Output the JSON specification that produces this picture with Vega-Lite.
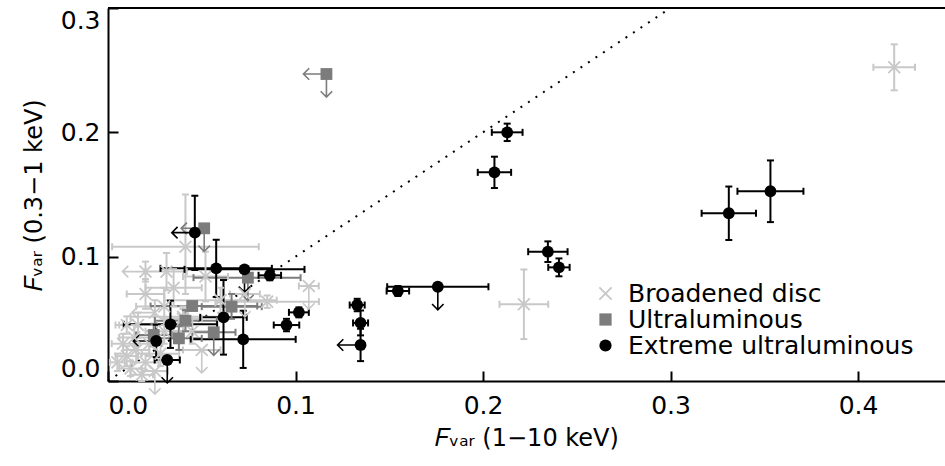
{
 "$schema": "https://vega.github.io/schema/vega-lite/v6.json",
 "width": 837, "height": 373,
 "autosize": "none",
 "padding": {"left": 108, "top": 8, "right": 0, "bottom": 85},
 "background": "white",
 "config": {
  "view": {"stroke": null},
  "font": "DejaVu Sans",
  "axis": {"domain": true, "domainColor": "black", "domainWidth": 2, "grid": false, "tickColor": "black", "tickWidth": 2, "tickSize": -10, "labelColor": "black", "labelFontSize": 25, "labelFont": "DejaVu Sans", "titleFont": "DejaVu Sans", "titleFontSize": 24, "titleFontWeight": "normal", "titleColor": "black"}
 },
 "datasets": {
  "diag": [{"x": 0, "y": 0, "x2": 0.3, "y2": 0.3}],
  "pts": [
   {"c": "Broadened disc", "x": 0.4193, "y": 0.2523, "xlo": 0.4082, "xhi": 0.4304, "ylo": 0.2338, "yhi": 0.2708},
   {"c": "Broadened disc", "x": 0.2218, "y": 0.0617, "xlo": 0.2088, "xhi": 0.2348, "ylo": 0.0337, "yhi": 0.0897},
   {"c": "Broadened disc", "x": 0.1071, "y": 0.0764, "xlo": 0.1018, "xhi": 0.1124, "yul": true},
   {"c": "Broadened disc", "x": 0.0849, "y": 0.0638, "xlo": 0.0573, "xhi": 0.1125, "ylo": 0.0588, "yhi": 0.0688},
   {"c": "Broadened disc", "x": 0.0413, "y": 0.108, "xlo": 0.0022, "xhi": 0.0804, "ylo": 0.07, "yhi": 0.15},
   {"c": "Broadened disc", "x": 0.0312, "y": 0.088, "xlo": 0.02, "xhi": 0.042, "ylo": 0.073, "yhi": 0.103},
   {"c": "Broadened disc", "x": 0.052, "y": 0.084, "xlo": 0.04, "xhi": 0.064, "ylo": 0.064, "yhi": 0.104},
   {"c": "Broadened disc", "x": 0.073, "y": 0.07, "xlo": 0.065, "xhi": 0.081, "yul": true},
   {"c": "Broadened disc", "x": 0.02, "y": 0.088, "xul": true, "ylo": 0.08, "yhi": 0.096},
   {"c": "Broadened disc", "x": 0.01, "y": 0.02, "xlo": 0.004, "xhi": 0.016, "ylo": 0.012, "yhi": 0.028},
   {"c": "Broadened disc", "x": 0.015, "y": 0.025, "xlo": 0.008, "xhi": 0.022, "ylo": 0.015, "yhi": 0.035},
   {"c": "Broadened disc", "x": 0.012, "y": 0.01, "xlo": 0.006, "xhi": 0.018, "ylo": 0.004, "yhi": 0.016},
   {"c": "Broadened disc", "x": 0.018, "y": 0.005, "xlo": 0.012, "xhi": 0.024, "ylo": 0.0, "yhi": 0.01},
   {"c": "Broadened disc", "x": 0.02, "y": 0.015, "xlo": 0.013, "xhi": 0.027, "ylo": 0.008, "yhi": 0.022},
   {"c": "Broadened disc", "x": 0.025, "y": 0.008, "xlo": 0.018, "xhi": 0.032, "yul": true},
   {"c": "Broadened disc", "x": 0.014, "y": 0.035, "xlo": 0.006, "xhi": 0.022, "ylo": 0.025, "yhi": 0.045},
   {"c": "Broadened disc", "x": 0.022, "y": 0.03, "xlo": 0.015, "xhi": 0.029, "ylo": 0.02, "yhi": 0.04},
   {"c": "Broadened disc", "x": 0.028, "y": 0.022, "xlo": 0.018, "xhi": 0.038, "ylo": 0.012, "yhi": 0.032},
   {"c": "Broadened disc", "x": 0.008, "y": 0.03, "xlo": 0.002, "xhi": 0.014, "ylo": 0.022, "yhi": 0.038},
   {"c": "Broadened disc", "x": 0.016, "y": 0.045, "xlo": 0.006, "xhi": 0.026, "ylo": 0.035, "yhi": 0.055},
   {"c": "Broadened disc", "x": 0.03, "y": 0.06, "xlo": 0.015, "xhi": 0.045, "ylo": 0.045, "yhi": 0.075},
   {"c": "Broadened disc", "x": 0.025, "y": 0.055, "xul": true, "ylo": 0.045, "yhi": 0.065},
   {"c": "Broadened disc", "x": 0.035, "y": 0.075, "xlo": 0.02, "xhi": 0.05, "ylo": 0.06, "yhi": 0.09},
   {"c": "Broadened disc", "x": 0.02, "y": 0.07, "xlo": 0.01, "xhi": 0.03, "ylo": 0.058, "yhi": 0.082},
   {"c": "Broadened disc", "x": 0.04, "y": 0.05, "xlo": 0.03, "xhi": 0.05, "ylo": 0.04, "yhi": 0.06},
   {"c": "Broadened disc", "x": 0.045, "y": 0.04, "xlo": 0.035, "xhi": 0.055, "ylo": 0.03, "yhi": 0.05},
   {"c": "Broadened disc", "x": 0.05, "y": 0.025, "xlo": 0.04, "xhi": 0.06, "yul": true},
   {"c": "Broadened disc", "x": 0.01, "y": 0.045, "xlo": 0.004, "xhi": 0.016, "ylo": 0.038, "yhi": 0.052},
   {"c": "Broadened disc", "x": 0.005, "y": 0.015, "xlo": 0.001, "xhi": 0.009, "ylo": 0.008, "yhi": 0.022},
   {"c": "Broadened disc", "x": 0.03, "y": 0.04, "xlo": 0.02, "xhi": 0.04, "ylo": 0.03, "yhi": 0.05},
   {"c": "Broadened disc", "x": 0.04, "y": 0.0517, "xlo": 0.012, "xhi": 0.06, "ylo": 0.045, "yhi": 0.058},
   {"c": "Broadened disc", "x": 0.06, "y": 0.065, "xlo": 0.03, "xhi": 0.09, "ylo": 0.055, "yhi": 0.075},
   {"c": "Ultraluminous", "x": 0.1165, "y": 0.2469, "xul": true, "yul": true},
   {"c": "Ultraluminous", "x": 0.0513, "y": 0.1228, "xul": true, "yul": true},
   {"c": "Ultraluminous", "x": 0.0746, "y": 0.0831, "xlo": 0.0456, "xhi": 0.1027, "yul": true},
   {"c": "Ultraluminous", "x": 0.0449, "y": 0.0603, "xlo": 0.0227, "xhi": 0.0796},
   {"c": "Ultraluminous", "x": 0.0659, "y": 0.0598, "xlo": 0.05, "xhi": 0.082, "ylo": 0.05, "yhi": 0.07},
   {"c": "Ultraluminous", "x": 0.0413, "y": 0.0485, "xlo": 0.025, "xhi": 0.058, "ylo": 0.04, "yhi": 0.057},
   {"c": "Ultraluminous", "x": 0.0564, "y": 0.0392, "xlo": 0.045, "xhi": 0.068, "yul": true},
   {"c": "Ultraluminous", "x": 0.0378, "y": 0.0343, "xlo": 0.025, "xhi": 0.05, "ylo": 0.025, "yhi": 0.044},
   {"c": "Ultraluminous", "x": 0.0244, "y": 0.037, "xlo": 0.015, "xhi": 0.034, "ylo": 0.028, "yhi": 0.046},
   {"c": "Extreme ultraluminous", "x": 0.2129, "y": 0.2, "xlo": 0.2047, "xhi": 0.2211, "ylo": 0.193, "yhi": 0.207},
   {"c": "Extreme ultraluminous", "x": 0.2061, "y": 0.1678, "xlo": 0.1972, "xhi": 0.215, "ylo": 0.1552, "yhi": 0.1804},
   {"c": "Extreme ultraluminous", "x": 0.2346, "y": 0.104, "xlo": 0.2241, "xhi": 0.2451, "ylo": 0.0957, "yhi": 0.1123},
   {"c": "Extreme ultraluminous", "x": 0.2405, "y": 0.0914, "xlo": 0.2348, "xhi": 0.2462, "ylo": 0.0842, "yhi": 0.0986},
   {"c": "Extreme ultraluminous", "x": 0.1759, "y": 0.0758, "xlo": 0.1489, "xhi": 0.2029, "yul": true},
   {"c": "Extreme ultraluminous", "x": 0.1546, "y": 0.0724, "xlo": 0.1486, "xhi": 0.1606, "ylo": 0.0684, "yhi": 0.0764},
   {"c": "Extreme ultraluminous", "x": 0.1329, "y": 0.0611, "xlo": 0.1289, "xhi": 0.1369, "ylo": 0.0561, "yhi": 0.0661},
   {"c": "Extreme ultraluminous", "x": 0.1347, "y": 0.0467, "xlo": 0.1307, "xhi": 0.1387, "ylo": 0.0367, "yhi": 0.0567},
   {"c": "Extreme ultraluminous", "x": 0.1347, "y": 0.029, "xul": true, "ylo": 0.016, "yhi": 0.042},
   {"c": "Extreme ultraluminous", "x": 0.3311, "y": 0.1349, "xlo": 0.3166, "xhi": 0.3456, "ylo": 0.1134, "yhi": 0.1564},
   {"c": "Extreme ultraluminous", "x": 0.3533, "y": 0.1526, "xlo": 0.3357, "xhi": 0.3709, "ylo": 0.1278, "yhi": 0.1774},
   {"c": "Extreme ultraluminous", "x": 0.0463, "y": 0.1193, "xul": true, "ylo": 0.0893, "yhi": 0.149},
   {"c": "Extreme ultraluminous", "x": 0.0577, "y": 0.0906, "xlo": 0.028, "xhi": 0.0874, "ylo": 0.0676, "yhi": 0.1136},
   {"c": "Extreme ultraluminous", "x": 0.0728, "y": 0.0898, "xlo": 0.0408, "xhi": 0.1048, "yul": true},
   {"c": "Extreme ultraluminous", "x": 0.0863, "y": 0.085, "xlo": 0.0803, "xhi": 0.0923, "ylo": 0.081, "yhi": 0.089},
   {"c": "Extreme ultraluminous", "x": 0.1018, "y": 0.0552, "xlo": 0.0965, "xhi": 0.1071, "ylo": 0.0512, "yhi": 0.0592},
   {"c": "Extreme ultraluminous", "x": 0.0952, "y": 0.045, "xlo": 0.0884, "xhi": 0.102, "ylo": 0.04, "yhi": 0.05},
   {"c": "Extreme ultraluminous", "x": 0.0616, "y": 0.0512, "xlo": 0.0492, "xhi": 0.074, "ylo": 0.0212, "yhi": 0.0812},
   {"c": "Extreme ultraluminous", "x": 0.0333, "y": 0.0456, "xlo": 0.0084, "xhi": 0.0582, "ylo": 0.0266, "yhi": 0.0646},
   {"c": "Extreme ultraluminous", "x": 0.0721, "y": 0.0335, "xlo": 0.0441, "xhi": 0.1001, "ylo": 0.0105, "yhi": 0.0565},
   {"c": "Extreme ultraluminous", "x": 0.0257, "y": 0.0322, "xul": true, "ylo": 0.0192, "yhi": 0.0452},
   {"c": "Extreme ultraluminous", "x": 0.0316, "y": 0.0169, "xlo": 0.0249, "xhi": 0.0383, "yul": true}
  ]
 },
 "layer": [
  {
   "data": {"name": "diag"},
   "mark": {"type": "rule", "color": "black", "strokeWidth": 2, "strokeDash": [2, 7]},
   "encoding": {
    "x": {"field": "x", "type": "quantitative", "scale": {"domain": [0, 0.4464], "nice": false, "zero": false}, "title": "𝐹ᵥₐᵣ  (1−10 keV)", "axis": {"values": [0, 0.1, 0.2, 0.3, 0.4], "format": ".1f", "labelPadding": 22, "titlePadding": 8}},
    "y": {"field": "y", "type": "quantitative", "scale": {"domain": [0, 0.3], "nice": false, "zero": false}, "title": "𝐹ᵥₐᵣ  (0.3−1 keV)", "axis": {"values": [0, 0.1, 0.2, 0.3], "format": ".1f", "labelPadding": 18, "labelFlush": true, "titlePadding": 14}},
    "x2": {"field": "x2"},
    "y2": {"field": "y2"}
   }
  },
  {
   "data": {"name": "diag"},
   "mark": {"type": "rule", "color": "black", "strokeWidth": 2},
   "encoding": {
    "y": {"datum": 0.3, "type": "quantitative", "title": "𝐹ᵥₐᵣ  (0.3−1 keV)"}
   }
  },
  {
   "data": {"name": "pts"},
   "transform": [{"filter": "isValid(datum.xlo)"}],
   "mark": {"type": "rule", "strokeWidth": 2},
   "encoding": {
    "x": {"field": "xlo", "type": "quantitative", "title": "𝐹ᵥₐᵣ  (1−10 keV)"},
    "x2": {"field": "xhi"},
    "y": {"field": "y", "type": "quantitative", "title": "𝐹ᵥₐᵣ  (0.3−1 keV)"},
    "stroke": {"field": "c", "type": "nominal", "scale": {"domain": ["Extreme ultraluminous", "Ultraluminous", "Broadened disc"], "range": ["#000000", "#7c7c7c", "#c8c8c8"]}, "legend": null}
   }
  },
  {
   "data": {"name": "pts"},
   "transform": [{"filter": "isValid(datum.ylo)"}],
   "mark": {"type": "rule", "strokeWidth": 2},
   "encoding": {
    "x": {"field": "x", "type": "quantitative", "title": "𝐹ᵥₐᵣ  (1−10 keV)"},
    "y": {"field": "ylo", "type": "quantitative", "title": "𝐹ᵥₐᵣ  (0.3−1 keV)"},
    "y2": {"field": "yhi"},
    "stroke": {"field": "c", "type": "nominal", "legend": null}
   }
  },
  {
   "data": {"name": "pts"},
   "transform": [{"filter": "isValid(datum.xlo)"}, {"fold": ["xlo", "xhi"], "as": ["end", "xe"]}],
   "mark": {"type": "point", "filled": false, "strokeWidth": 2, "shape": "M0,-1L0,1", "size": 49, "opacity": 1},
   "encoding": {
    "x": {"field": "xe", "type": "quantitative", "title": "𝐹ᵥₐᵣ  (1−10 keV)"},
    "y": {"field": "y", "type": "quantitative", "title": "𝐹ᵥₐᵣ  (0.3−1 keV)"},
    "stroke": {"field": "c", "type": "nominal", "legend": null}
   }
  },
  {
   "data": {"name": "pts"},
   "transform": [{"filter": "isValid(datum.ylo)"}, {"fold": ["ylo", "yhi"], "as": ["end", "ye"]}],
   "mark": {"type": "point", "filled": false, "strokeWidth": 2, "shape": "M-1,0L1,0", "size": 49, "opacity": 1},
   "encoding": {
    "x": {"field": "x", "type": "quantitative", "title": "𝐹ᵥₐᵣ  (1−10 keV)"},
    "y": {"field": "ye", "type": "quantitative", "title": "𝐹ᵥₐᵣ  (0.3−1 keV)"},
    "stroke": {"field": "c", "type": "nominal", "legend": null}
   }
  },
  {
   "data": {"name": "pts"},
   "transform": [{"filter": "datum.xul === true"}],
   "mark": {"type": "point", "filled": false, "strokeWidth": 1.6, "shape": "M0,0L-2,0M-1.5,-0.5L-2,0L-1.5,0.5", "size": 529, "opacity": 1},
   "encoding": {
    "x": {"field": "x", "type": "quantitative", "title": "𝐹ᵥₐᵣ  (1−10 keV)"},
    "y": {"field": "y", "type": "quantitative", "title": "𝐹ᵥₐᵣ  (0.3−1 keV)"},
    "stroke": {"field": "c", "type": "nominal", "legend": null}
   }
  },
  {
   "data": {"name": "pts"},
   "transform": [{"filter": "datum.yul === true"}],
   "mark": {"type": "point", "filled": false, "strokeWidth": 1.6, "shape": "M0,0L0,2M-0.5,1.5L0,2L0.5,1.5", "size": 529, "opacity": 1},
   "encoding": {
    "x": {"field": "x", "type": "quantitative", "title": "𝐹ᵥₐᵣ  (1−10 keV)"},
    "y": {"field": "y", "type": "quantitative", "title": "𝐹ᵥₐᵣ  (0.3−1 keV)"},
    "stroke": {"field": "c", "type": "nominal", "legend": null}
   }
  },
  {
   "data": {"name": "pts"},
   "mark": {"type": "point", "filled": true, "opacity": 1, "size": 140},
   "encoding": {
    "x": {"field": "x", "type": "quantitative", "title": "𝐹ᵥₐᵣ  (1−10 keV)"},
    "y": {"field": "y", "type": "quantitative", "title": "𝐹ᵥₐᵣ  (0.3−1 keV)"},
    "color": {"field": "c", "type": "nominal", "scale": {"domain": ["Broadened disc", "Ultraluminous", "Extreme ultraluminous"], "range": ["#c8c8c8", "#7c7c7c", "#000000"]}, "legend": {"title": null, "orient": "none", "legendX": 485, "legendY": 273, "padding": 0, "labelFontSize": 25, "labelFont": "DejaVu Sans", "labelColor": "black", "labelLimit": 0, "symbolSize": 150, "symbolStrokeWidth": 0, "rowPadding": 0, "labelOffset": 10}},
    "shape": {"field": "c", "type": "nominal", "scale": {"domain": ["Broadened disc", "Ultraluminous", "Extreme ultraluminous"], "range": ["M-0.891,-1.109L1.109,0.891L0.891,1.109L-1.109,-0.891ZM-1.109,0.891L0.891,-1.109L1.109,-0.891L-0.891,1.109Z", "square", "circle"]}, "legend": {"title": null, "orient": "none", "legendX": 485, "legendY": 273, "padding": 0, "labelFontSize": 25, "labelFont": "DejaVu Sans", "labelColor": "black", "labelLimit": 0, "symbolSize": 150, "symbolStrokeWidth": 0, "rowPadding": 0, "labelOffset": 10}}
   }
  }
 ]
}
